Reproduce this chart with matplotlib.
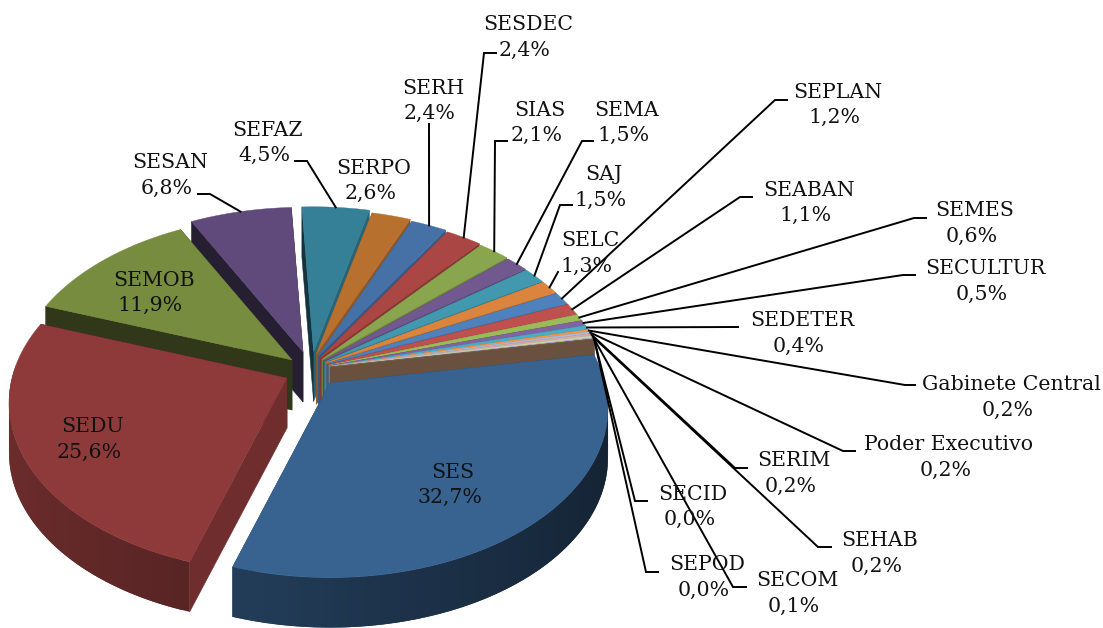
import numpy as np
import matplotlib
matplotlib.use("Agg")
import matplotlib.pyplot as plt
from matplotlib.colors import to_rgb

labels = ["SES", "SEDU", "SEMOB", "SESAN", "SEFAZ", "SERPO", "SERH", "SESDEC", "SIAS", "SEMA",
          "SAJ", "SELC", "SEPLAN", "SEABAN", "SEMES", "SECULTUR", "SEDETER", "Gabinete Central",
          "Poder Executivo", "SERIM", "SEHAB", "SECOM", "SEPOD", "SECID"]
values = [32.7, 25.6, 11.9, 6.8, 4.5, 2.6, 2.4, 2.4, 2.1, 1.5,
          1.5, 1.3, 1.2, 1.1, 0.6, 0.5, 0.4, 0.2,
          0.2, 0.2, 0.2, 0.1, 0.0, 0.0]
colors = ["#386290", "#8e3a3a", "#778c3e", "#604a7b", "#358097", "#b8702f", "#4571a7", "#aa4643",
          "#89a54e", "#71588f", "#4198af", "#db843d", "#4f81bd", "#c0504d", "#9bbb59", "#8064a2",
          "#4bacc6", "#f79646", "#aabad7", "#d9aaa9", "#c6d6ac", "#baaed0", "#a9d3e0", "#88664f"]

# where the first line of each label sits (pixels)
label_pos = {"SES": (453, 472), "SEDU": (93, 427), "SEMOB": (154, 280), "SESAN": (170, 163),
             "SEFAZ": (268, 130), "SERPO": (374, 168), "SERH": (433, 88), "SESDEC": (528, 25),
             "SIAS": (540, 110), "SEMA": (627, 110), "SAJ": (604, 175), "SELC": (590, 241),
             "SEPLAN": (838, 92), "SEABAN": (809, 190), "SEMES": (975, 211), "SECULTUR": (985, 269),
             "SEDETER": (802, 321), "Gabinete Central": (1011, 385), "Poder Executivo": (949, 445),
             "SERIM": (794, 461), "SEHAB": (880, 541), "SECOM": (797, 581), "SEPOD": (707, 565),
             "SECID": (693, 494)}

# leader line points from the label towards the slice
leaders = {"SESAN": [(198, 194), (210, 194)], "SEFAZ": [(295, 161), (307, 161)], "SERH": [(429, 124)],
           "SESDEC": [(496, 53), (484, 53)], "SIAS": [(507, 141), (495, 141)], "SEMA": [(593, 141), (582, 141)],
           "SAJ": [(572, 205), (560, 205)], "SELC": [(558, 272)], "SEPLAN": [(787, 100), (775, 100)],
           "SEABAN": [(752, 197), (740, 197)], "SEMES": [(926, 218), (914, 218)],
           "SECULTUR": [(915, 275), (903, 275)], "SEDETER": [(738, 327)],
           "Gabinete Central": [(915, 385), (905, 385)], "Poder Executivo": [(855, 451), (843, 451)],
           "SERIM": [(747, 468), (735, 468)], "SEHAB": [(831, 547), (818, 547)],
           "SECOM": [(746, 587), (733, 587)], "SEPOD": [(658, 572), (646, 572)],
           "SECID": [(647, 501), (635, 501)]}

# pie geometry, pixels
A, B, k = 275, 166, 0.147
depth = 50
start = 10.0
apex = {"SES": (330, 383), "SEDU": (287, 378), "SEMOB": (292, 360), "SESAN": (303, 352)}

plt.rcParams["font.family"] = ["DejaVu Serif"]
fig = plt.figure(figsize=(11.03, 6.28), dpi=100)
ax = fig.add_axes([0, 0, 1, 1])
ax.set_xlim(0, 1103)
ax.set_ylim(628, 0)
ax.axis("off")


def project(c, deg):
    t = np.radians(deg)
    w = 1 + k * np.sin(t)
    return c[0] + A * np.cos(t) / w, c[1] - B * np.sin(t) / w


def shade(col, f):
    return tuple(np.array(to_rgb(col)) * f)


sweeps = np.array(values) / sum(values) * 360
ends = start - np.cumsum(sweeps)
starts = ends + sweeps
mids = (starts + ends) / 2


def get_apex(i):
    if labels[i] in apex:
        return apex[labels[i]]
    t = (92 - (mids[i] + 360)) / 82
    return 312 + t * 18, 350 + t * 17


def face(c, deg, col):
    a = np.mod(deg, 360)
    f = 0.4 if 90 < a < 170 else 0.78
    x, y = project(c, deg)
    ax.fill([c[0], x, x, c[0]], [c[1], y, y + depth, c[1] + depth], color=shade(col, f), lw=0.4)


def draw_slice(i):
    c = get_apex(i)
    col = colors[i]
    th = np.linspace(starts[i], ends[i], max(int(sweeps[i] / 1.5), 1) + 1)
    x, y = project(c, th)
    face(c, ends[i], col)
    face(c, starts[i], col)
    for j in range(len(th) - 1):
        t = (th[j] + th[j + 1]) / 2
        if np.sin(np.radians(t)) > 0.05:
            continue
        f = 0.56 - 0.2 * np.cos(np.radians(t))
        # each strip runs over the next one so no seam shows
        n = min(j + 2, len(th) - 1)
        ax.fill([x[j], x[n], x[n], x[j]],
                [y[j], y[n], y[n] + depth, y[j] + depth],
                color=shade(col, f), lw=0)
    ax.fill(np.r_[c[0], x], np.r_[c[1], y], color=col, lw=0.3)


# back to front
order = list(range(4, len(values))) + [3, 2, 1, 0]
for i in order:
    draw_slice(i)

for i, name in enumerate(labels):
    if name in leaders:
        rim = project(get_apex(i), mids[i])
        pts = leaders[name] + [rim]
        ax.plot([p[0] for p in pts], [p[1] for p in pts], color="black", lw=1.4,
                solid_joinstyle="miter", zorder=5)
    x, y = label_pos[name]
    ax.text(x, y, name, ha="center", va="center", fontsize=14.8, color="#111111", zorder=6)
    ax.text(x - 3.5, y + 25, f"{values[i]:.1f}%".replace(".", ","), ha="center", va="center",
            fontsize=14.8, color="#111111", zorder=6)

fig.savefig("out.png", dpi=100)
